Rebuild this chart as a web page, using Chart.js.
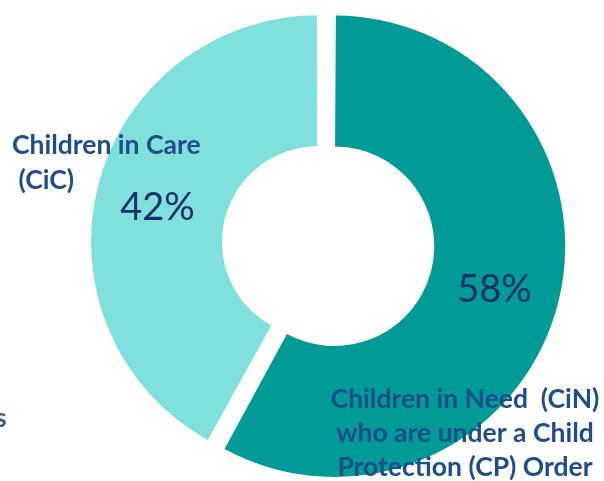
<!DOCTYPE html>
<html>
<head>
<meta charset="utf-8">
<script src="https://cdn.jsdelivr.net/npm/chart.js@4/dist/chart.umd.min.js"></script>
<style>
  html, body { margin: 0; padding: 0; background: #fff; overflow: hidden; }
  #wrap { position: absolute; left: 0; top: 0; width: 604px; height: 488px; }
</style>
</head>
<body>
<div id="wrap"><canvas id="donut"></canvas></div>
<script>
// data
var categories = ['Children in Need (CiN) who are under a Child Protection (CP) Order', 'Children in Care (CiC)'];
var shares = [58, 42];
var sliceColours = ['#009a97', '#7fe0dc'];

// label text as on the picture
var cicLines = ['Children in Care', ' (CiC)'];
var cinLines = ['Children in Need  (CiN)', 'who are under a Child', 'Protection (CP) Order'];

var labelPlugin = {
    id: 'labelPlugin',
    afterDatasetsDraw: function (chart) {
        var ctx = chart.ctx;
        var arcs = chart.getDatasetMeta(0).data;
        var nudge = [2, 7]; // small vertical shift of the % labels
        ctx.save();

        // percentages, placed from each arc
        ctx.font = '38px Lato';
        ctx.fillStyle = '#1b2f6a';
        ctx.textAlign = 'center';
        ctx.textBaseline = 'middle';
        arcs.forEach(function (arc, i) {
            var p = arc.tooltipPosition();
            ctx.fillText(shares[i] + '%', p.x, p.y + nudge[i]);
        });

        // category labels
        ctx.font = 'bold 26.5px Lato';
        ctx.fillStyle = '#1d4e8b';
        ctx.textBaseline = 'alphabetic';
        ctx.textAlign = 'left';
        ctx.fillText(cicLines[0], 12, 154);
        ctx.fillText(cicLines[1], 12, 189);

        ctx.textAlign = 'center';
        cinLines.forEach(function (line, i) {
            ctx.fillText(line, 465, 408 + i * 34);
        });

        // cut-off text at the left edge
        ctx.fillStyle = '#3d5d7e';
        ctx.textAlign = 'left';
        ctx.fillText('s', -5, 427);
        ctx.restore();
    }
};

var ctx = document.getElementById('donut').getContext('2d');
var donutChart = new Chart(ctx, {
    type: 'doughnut',
    data: {
        labels: categories,
        datasets: [{
            data: shares,
            backgroundColor: sliceColours,
            borderWidth: 0,
            offset: 35,
            hoverOffset: 0
        }]
    },
    options: {
        responsive: true,
        maintainAspectRatio: false,
        animation: false,
        cutout: '41%',
        layout: {
            padding: { left: 86.5, right: 38.5, top: 0, bottom: 0 }
        },
        plugins: {
            legend: { display: false },
            tooltip: { enabled: false }
        }
    },
    plugins: [labelPlugin]
});
</script>
</body>
</html>
